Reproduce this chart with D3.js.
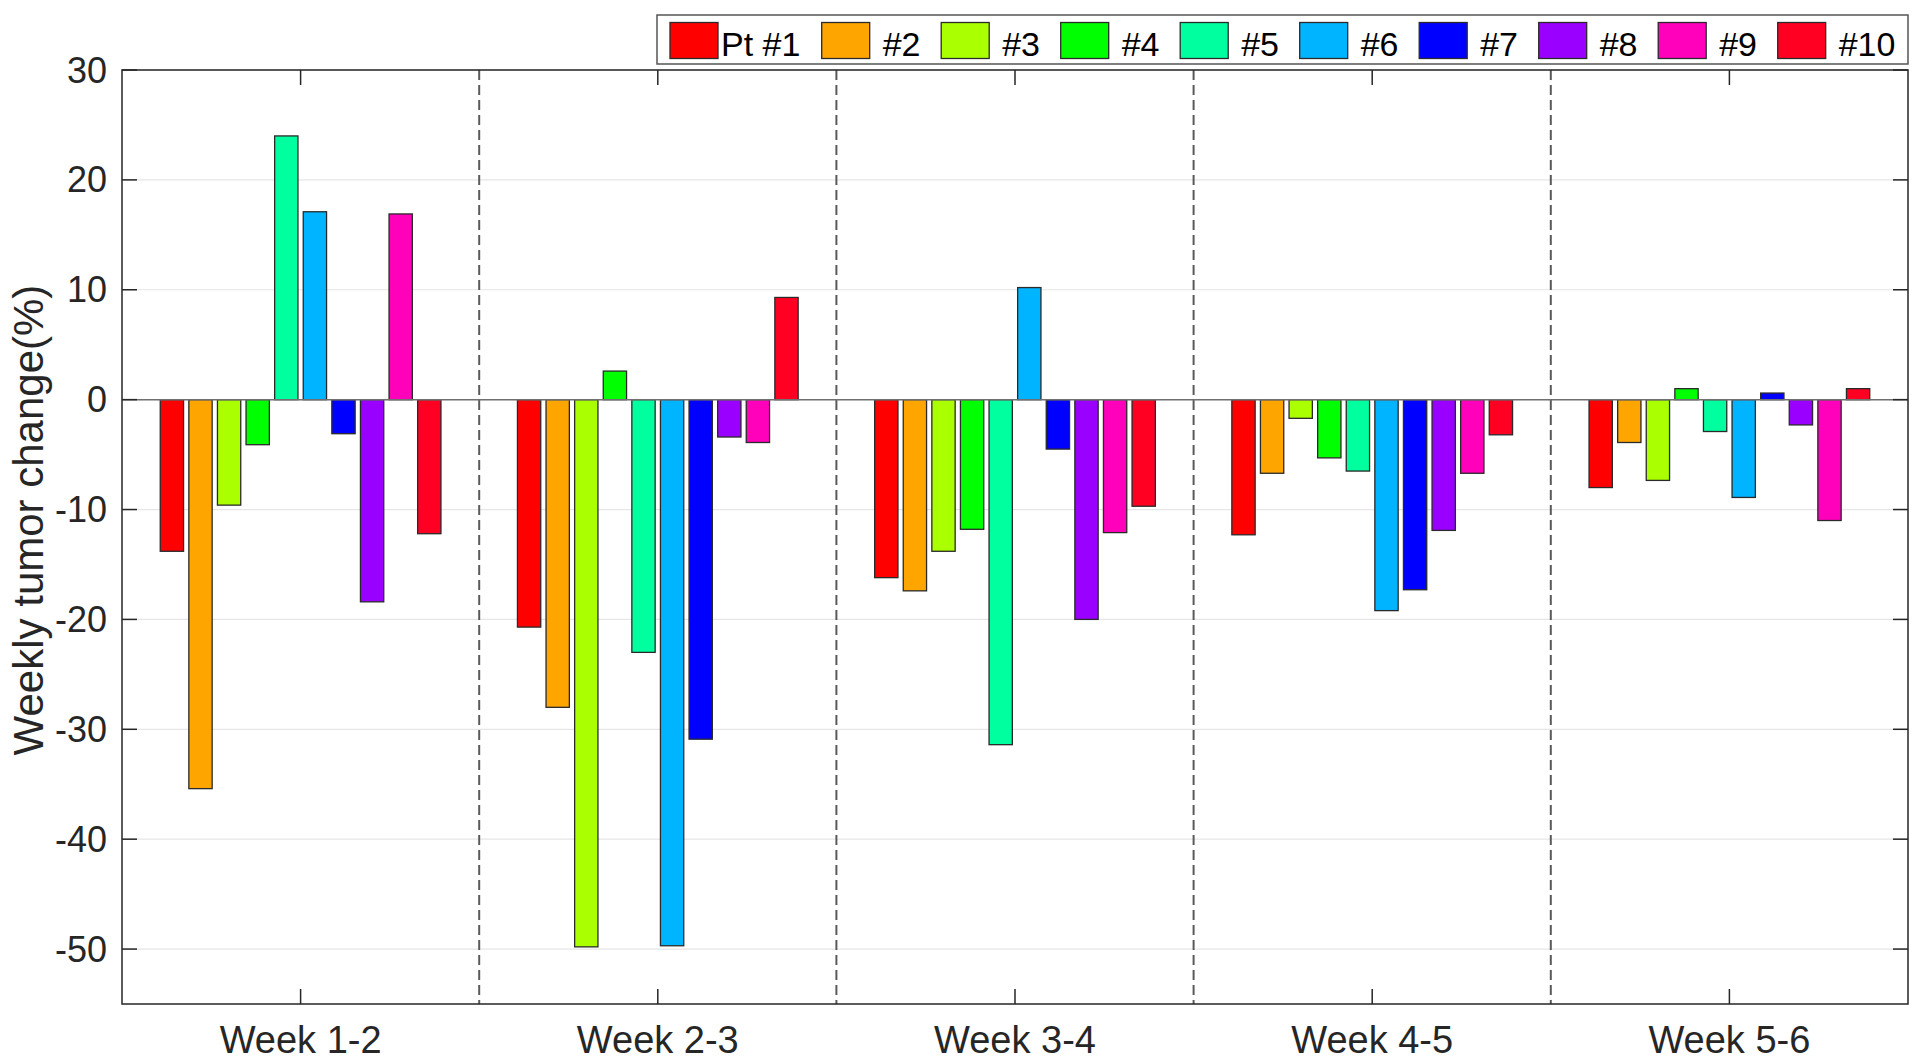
<!DOCTYPE html>
<html>
<head>
<meta charset="utf-8">
<script src="https://cdn.jsdelivr.net/npm/d3@7"></script>
<style>
  html, body { margin: 0; padding: 0; background: #fff; }
  svg { display: block; font-family: "Liberation Sans", Arial, sans-serif; }
</style>
</head>
<body>
<svg id="chart" width="1920" height="1060"></svg>
<script>
// ---- data ----
const weeks = ["Week 1-2", "Week 2-3", "Week 3-4", "Week 4-5", "Week 5-6"];
const patients = ["Pt #1", "#2", "#3", "#4", "#5", "#6", "#7", "#8", "#9", "#10"];
const colors = ["#ff0000", "#ffa500", "#aaff00", "#00ff00", "#00ff9f", "#00b4ff", "#0000ff", "#9900ff", "#ff00bb", "#ff0022"];
const week12 = [-13.8, -35.4, -9.6, -4.1, 24.0, 17.1, -3.1, -18.4, 16.9, -12.2];
const week23 = [-20.7, -28.0, -49.8, 2.6, -23.0, -49.7, -30.9, -3.4, -3.9, 9.3];
const week34 = [-16.2, -17.4, -13.8, -11.8, -31.4, 10.2, -4.5, -20.0, -12.1, -9.7];
const week45 = [-12.3, -6.7, -1.7, -5.3, -6.5, -19.2, -17.3, -11.9, -6.7, -3.2];
const week56 = [-8.0, -3.9, -7.35, 1.0, -2.9, -8.9, 0.6, -2.3, -11.0, 1.0];
const yTicks = [-50, -40, -30, -20, -10, 0, 10, 20, 30];
const yLabel = "Weekly tumor change(%)";

const seriesByWeek = [week12, week23, week34, week45, week56];

// ---- layout ----
const svg = d3.select("#chart");
const L = 122, R = 1908, T = 70, B = 1004;
const axisColor = "#262626";

const x = d3.scaleBand().domain(weeks).range([L, R]).padding(0);
const groupWidth = 286;
const xInner = d3.scaleBand().domain(patients)
  .range([-groupWidth / 2, groupWidth / 2])
  .paddingInner(0.185).paddingOuter(0.0925);
const y = d3.scaleLinear().domain([-55, 30]).range([B, T]);

// grid lines
svg.append("g").selectAll("line").data(yTicks).join("line")
  .attr("x1", L).attr("x2", R)
  .attr("y1", d => y(d)).attr("y2", d => y(d))
  .attr("stroke", "#e6e6e6").attr("stroke-width", 1.2);

// dashed separators
svg.append("g").selectAll("line").data(weeks.slice(1)).join("line")
  .attr("x1", d => x(d)).attr("x2", d => x(d))
  .attr("y1", T).attr("y2", B)
  .attr("stroke", "#5a5a5a").attr("stroke-width", 2)
  .attr("stroke-dasharray", "10,5");

// bars
const barData = [];
weeks.forEach((w, wi) => {
  patients.forEach((p, pi) => {
    barData.push({ week: w, patient: p, value: seriesByWeek[wi][pi], color: colors[pi] });
  });
});
svg.append("g").selectAll("rect").data(barData).join("rect")
  .attr("x", d => x(d.week) + x.bandwidth() / 2 + xInner(d.patient))
  .attr("width", xInner.bandwidth())
  .attr("y", d => y(Math.max(0, d.value)))
  .attr("height", d => Math.abs(y(d.value) - y(0)))
  .attr("fill", d => d.color)
  .attr("stroke", "#2a2a2a").attr("stroke-width", 1.3);

// zero line
svg.append("line")
  .attr("x1", L).attr("x2", R).attr("y1", y(0)).attr("y2", y(0))
  .attr("stroke", "#707070").attr("stroke-width", 1.5);

// frame
svg.append("rect")
  .attr("x", L).attr("y", T).attr("width", R - L).attr("height", B - T)
  .attr("fill", "none").attr("stroke", axisColor).attr("stroke-width", 1.5);

// y axis ticks (inward, both sides)
const tickLen = 15;
const yt = svg.append("g");
yt.selectAll("line.l").data(yTicks).join("line").attr("class", "l")
  .attr("x1", L).attr("x2", L + tickLen).attr("y1", d => y(d)).attr("y2", d => y(d))
  .attr("stroke", axisColor).attr("stroke-width", 1.5);
yt.selectAll("line.r").data(yTicks).join("line").attr("class", "r")
  .attr("x1", R).attr("x2", R - tickLen).attr("y1", d => y(d)).attr("y2", d => y(d))
  .attr("stroke", axisColor).attr("stroke-width", 1.5);
yt.selectAll("text").data(yTicks).join("text")
  .attr("x", L - 15).attr("y", d => y(d))
  .attr("text-anchor", "end").attr("dominant-baseline", "central")
  .attr("font-size", 36).attr("fill", axisColor)
  .text(d => d);

// x axis ticks (inward, top and bottom)
const xt = svg.append("g");
xt.selectAll("line.b").data(weeks).join("line").attr("class", "b")
  .attr("x1", d => x(d) + x.bandwidth() / 2).attr("x2", d => x(d) + x.bandwidth() / 2)
  .attr("y1", B).attr("y2", B - tickLen)
  .attr("stroke", axisColor).attr("stroke-width", 1.5);
xt.selectAll("line.t").data(weeks).join("line").attr("class", "t")
  .attr("x1", d => x(d) + x.bandwidth() / 2).attr("x2", d => x(d) + x.bandwidth() / 2)
  .attr("y1", T).attr("y2", T + tickLen)
  .attr("stroke", axisColor).attr("stroke-width", 1.5);
xt.selectAll("text").data(weeks).join("text")
  .attr("x", d => x(d) + x.bandwidth() / 2).attr("y", 1053)
  .attr("text-anchor", "middle")
  .attr("font-size", 38).attr("fill", axisColor)
  .text(d => d);

// y label
svg.append("text")
  .attr("transform", "translate(43,520) rotate(-90)")
  .attr("text-anchor", "middle")
  .attr("font-size", 42).attr("fill", axisColor)
  .text(yLabel);

// legend
const lg = svg.append("g");
lg.append("rect")
  .attr("x", 657).attr("y", 15).attr("width", 1908 - 657).attr("height", 49)
  .attr("fill", "#fff").attr("stroke", "#555").attr("stroke-width", 1.5);
const legStep = 119.5;
const legX = i => i === 0 ? 670 : 821.7 + (i - 1) * legStep;
const items = lg.selectAll("g.item").data(patients).join("g").attr("class", "item")
  .attr("transform", (d, i) => `translate(${legX(i)},0)`);
items.append("rect")
  .attr("x", 0).attr("y", 22.5).attr("width", 48).attr("height", 36)
  .attr("fill", (d, i) => colors[i]).attr("stroke", "#2a2a2a").attr("stroke-width", 1.3);
items.append("text")
  .attr("x", (d, i) => i === 0 ? 51 : 61).attr("y", 56)
  .attr("font-size", 34).attr("fill", "#000")
  .text(d => d);
</script>
</body>
</html>
